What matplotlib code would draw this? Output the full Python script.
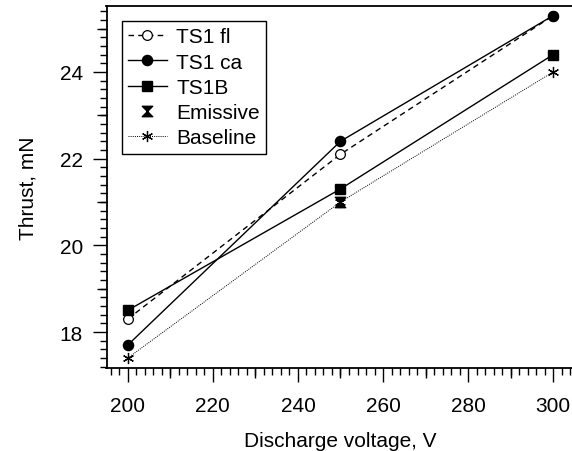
import matplotlib
matplotlib.use("Agg")
import matplotlib.pyplot as plt
from matplotlib.path import Path
from matplotlib.ticker import MultipleLocator, FixedLocator, NullFormatter

plt.rcParams['font.family'] = ['Liberation Sans', 'DejaVu Sans']
plt.rcParams['font.size'] = 15

voltage = [200, 250, 300]
ts1_fl = [18.3, 22.1, 25.3]
ts1_ca = [17.7, 22.4, 25.3]
ts1b = [18.5, 21.3, 24.4]
emissive_v = [250]
emissive = [21.0]
baseline = [17.4, 21.0, 24.0]

hourglass = Path([(-1, 1), (1, 1), (-1, -1), (1, -1), (-1, 1)],
                 [Path.MOVETO, Path.LINETO, Path.LINETO, Path.LINETO, Path.CLOSEPOLY])

fig = plt.figure(figsize=(5.72, 4.52), dpi=100)
W, H = 572, 452
left, right, top, bottom = 106.5, 574.5, 7, 369
ax = fig.add_axes([left / W, (H - bottom) / H, (right - left) / W, (bottom - top) / H])

ax.plot(voltage, ts1_fl, linestyle=(0, (4, 3)), color='black', lw=1.0,
        marker='o', markersize=7, markerfacecolor='white', markeredgecolor='black',
        markeredgewidth=0.9, label='TS1 fl')
ax.plot(voltage, ts1_ca, '-', color='black', lw=1.0, marker='o', markersize=7.3,
        label='TS1 ca')
ax.plot(voltage, ts1b, '-', color='black', lw=1.0, marker='s', markersize=7,
        label='TS1B')
ax.plot(emissive_v, emissive, linestyle='none', color='black', marker=hourglass,
        markersize=7.5, label='Emissive')
ax.plot(voltage, baseline, linestyle=(0, (1, 1.2)), color='black', lw=0.7,
        marker=(6, 2, 0), markersize=8, markeredgewidth=0.9, label='Baseline')

ax.set_xlim(195, 305)
ax.set_ylim(17.17, 25.52)

ax.spines['right'].set_visible(False)
for s in ['left', 'bottom', 'top']:
    ax.spines[s].set_linewidth(1.3)

ax.xaxis.set_major_locator(MultipleLocator(20))
ax.xaxis.set_minor_locator(MultipleLocator(2))
ax.yaxis.set_major_locator(MultipleLocator(2))
ax.yaxis.set_minor_locator(MultipleLocator(0.2))
ax.tick_params(which='major', direction='out', length=10, width=1.0)
ax.tick_params(axis='x', which='major', pad=10)
ax.tick_params(axis='y', which='major', pad=7)
ax.tick_params(which='minor', direction='out', length=5, width=1.0)
ax.tick_params(top=False, right=False, which='both')

secx = ax.secondary_xaxis('bottom')
secx.xaxis.set_major_locator(FixedLocator([210, 230, 250, 270, 290]))
secx.xaxis.set_major_formatter(NullFormatter())
secx.tick_params(direction='out', length=7.5, width=1.0)
secx.spines['bottom'].set_visible(False)

secy = ax.secondary_yaxis('left')
secy.yaxis.set_major_locator(FixedLocator([17, 19, 21, 23, 25]))
secy.yaxis.set_major_formatter(NullFormatter())
secy.tick_params(direction='out', length=7.5, width=1.0)
secy.spines['left'].set_visible(False)

ax.set_xlabel('Discharge voltage, V', labelpad=12)
ax.set_ylabel('Thrust, mN', labelpad=16)

leg = ax.legend(loc='upper left', bbox_to_anchor=(0.033, 0.958), borderaxespad=0,
                frameon=True, fancybox=False, edgecolor='black', framealpha=1,
                handlelength=1.85, handletextpad=0.45, labelspacing=0.3,
                borderpad=0.3, fontsize=15)
leg.get_frame().set_linewidth(1.0)

fig.savefig('out.png', dpi=100)
